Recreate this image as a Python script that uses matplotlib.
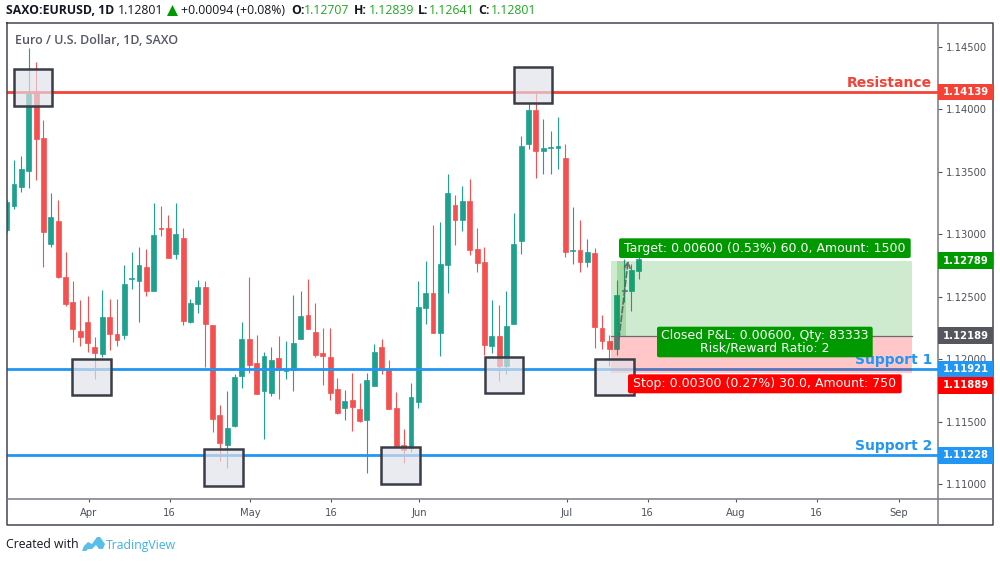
import matplotlib
matplotlib.use('Agg')
import matplotlib.pyplot as plt
from matplotlib.patches import Rectangle, FancyBboxPatch, Polygon

opens = [1.13034, 1.13226, 1.13379, 1.13507, 1.14132, 1.13771, 1.12922, 1.13106, 1.12658, 1.12458,
         1.12225, 1.12297, 1.12097, 1.12041, 1.12338, 1.12201, 1.12193, 1.12642, 1.12626, 1.12738,
         1.12546, 1.13050, 1.13050, 1.12842, 1.12970, 1.12297, 1.12442, 1.12578, 1.12273, 1.11553,
         1.11312, 1.11465, 1.11865, 1.12161, 1.11969, 1.11745, 1.11729, 1.12009, 1.11905, 1.11913,
         1.12161, 1.12354, 1.12217, 1.12049, 1.12017, 1.11761, 1.11609, 1.11673, 1.11601, 1.11513,
         1.11785, 1.12097, 1.11913, 1.11609, 1.11312, 1.11288, 1.11657, 1.12410, 1.12530, 1.12209,
         1.12754, 1.13234, 1.13114, 1.13267, 1.12882, 1.12778, 1.12105, 1.12185, 1.11945, 1.12281,
         1.12946, 1.13723, 1.13995, 1.13667, 1.13691, 1.13691, 1.13611, 1.12866, 1.12874, 1.12778,
         1.12850, 1.12249, 1.12145, 1.12081, 1.12546, 1.12546, 1.12707]
highs = [1.13275, 1.13595, 1.13627, 1.14492, 1.14380, 1.13915, 1.13331, 1.13275, 1.12858, 1.12626,
         1.12474, 1.12506, 1.12177, 1.12554, 1.12482, 1.12482, 1.12754, 1.12858, 1.12898, 1.12882,
         1.13250, 1.13226, 1.13154, 1.13250, 1.13050, 1.12482, 1.12634, 1.12626, 1.12273, 1.11633,
         1.11745, 1.11881, 1.12297, 1.12658, 1.12193, 1.12057, 1.12097, 1.12185, 1.12145, 1.12514,
         1.12546, 1.12642, 1.12450, 1.12249, 1.12249, 1.11849, 1.11753, 1.11889, 1.11809, 1.11889,
         1.12121, 1.12161, 1.11993, 1.11737, 1.11440, 1.11809, 1.12626, 1.12786, 1.13074, 1.13098,
         1.13483, 1.13315, 1.13387, 1.13443, 1.13050, 1.12898, 1.12474, 1.12434, 1.12546, 1.13170,
         1.13787, 1.14051, 1.14132, 1.13923, 1.13827, 1.13939, 1.13723, 1.13218, 1.13114, 1.12962,
         1.12890, 1.12354, 1.12193, 1.12634, 1.12802, 1.12762, 1.12839]
lows = [1.13018, 1.13202, 1.13339, 1.13371, 1.13435, 1.12738, 1.12898, 1.12650, 1.12426, 1.12137,
        1.12105, 1.12057, 1.11841, 1.12017, 1.12073, 1.12105, 1.12161, 1.12562, 1.12297, 1.12506,
        1.12546, 1.12986, 1.12810, 1.12802, 1.12273, 1.12289, 1.12370, 1.11937, 1.11416, 1.11184,
        1.11128, 1.11457, 1.11769, 1.11889, 1.11721, 1.11360, 1.11705, 1.11681, 1.11841, 1.11745,
        1.12161, 1.12241, 1.12017, 1.11793, 1.11673, 1.11561, 1.11513, 1.11424, 1.11497, 1.11088,
        1.11785, 1.11881, 1.11601, 1.11288, 1.11168, 1.11256, 1.11609, 1.12281, 1.12209, 1.12025,
        1.12530, 1.12914, 1.13026, 1.12834, 1.12698, 1.12033, 1.12049, 1.11825, 1.11881, 1.12281,
        1.12842, 1.13683, 1.13451, 1.13483, 1.13483, 1.13523, 1.12818, 1.12762, 1.12698, 1.12738,
        1.12089, 1.12081, 1.11945, 1.12033, 1.12458, 1.12386, 1.12641]
closes = [1.13259, 1.13403, 1.13523, 1.14132, 1.13763, 1.13018, 1.13138, 1.12658, 1.12442, 1.12241,
          1.12177, 1.12129, 1.12049, 1.12338, 1.12201, 1.12153, 1.12602, 1.12650, 1.12754, 1.12546,
          1.12994, 1.13042, 1.12810, 1.13002, 1.12305, 1.12450, 1.12578, 1.12281, 1.11521, 1.11328,
          1.11449, 1.11857, 1.12161, 1.11953, 1.11721, 1.12025, 1.11993, 1.11913, 1.11913, 1.12129,
          1.12346, 1.12241, 1.12033, 1.12025, 1.11729, 1.11569, 1.11665, 1.11617, 1.11505, 1.11833,
          1.12057, 1.11913, 1.11601, 1.11304, 1.11272, 1.11697, 1.12418, 1.12530, 1.12209, 1.12762,
          1.13331, 1.13114, 1.13267, 1.12874, 1.12770, 1.12113, 1.12185, 1.11945, 1.12265, 1.12922,
          1.13707, 1.13995, 1.13667, 1.13691, 1.13699, 1.13707, 1.12858, 1.12874, 1.12778, 1.12858,
          1.12257, 1.12145, 1.12081, 1.12514, 1.12554, 1.12714, 1.12801]

price_ticks = [1.110, 1.115, 1.120, 1.125, 1.130, 1.135, 1.140, 1.145]
date_ticks = [11.15, 22.15, 33.15, 44.15, 56.15, 76.2, 87.2, 99.2, 110.2, 121.4]
date_labels = ['Apr', '16', 'May', '16', 'Jun', 'Jul', '16', 'Aug', '16', 'Sep']

resistance = 1.14139
support_1 = 1.11921
support_2 = 1.11228
pos_target = 1.12789
pos_entry = 1.12189
pos_stop = 1.11889

# highlighted squares: first bar, top price
box_left = [0.95, 8.88, 26.88, 50.97, 68.98, 65.03, 80.04]
box_top = [1.14324, 1.12004, 1.11278, 1.11294, 1.14342, 1.12020, 1.12004]

GREEN = '#1fa18f'
RED = '#f45050'
BLUE = '#2196f3'
LINE_RED = '#f44336'
GRAY_AXIS = '#787b86'
TEXT_GRAY = '#4f525c'
FRAME = '#434651'

plt.rcParams['font.family'] = ['DejaVu Sans']

fig = plt.figure(figsize=(10, 5.62), dpi=100, facecolor='white')
ax = fig.add_axes([6.5 / 1000, (562 - 498.7) / 562, 931.2 / 1000, 475.7 / 562])
ax.set_xlim(-0.03, 126.67)
ax.set_ylim(1.10882, 1.14692)

# candles
for i in range(len(opens)):
    col = GREEN if closes[i] >= opens[i] else RED
    ax.vlines(i, lows[i], highs[i], color=col, lw=0.8, zorder=2)
    ax.bar(i, abs(closes[i] - opens[i]), bottom=min(opens[i], closes[i]), width=0.66,
           color=col, edgecolor=col, linewidth=0.5, zorder=3)

# horizontal levels
ax.axhline(resistance, color=LINE_RED, lw=2.0, zorder=4)
ax.axhline(support_1, color=BLUE, lw=2.0, zorder=4)
ax.axhline(support_2, color=BLUE, lw=2.0, zorder=4)

# long position tool
ax.add_patch(Rectangle((82.2, pos_entry), 41, pos_target - pos_entry,
                       facecolor=(0, 0.6, 0, 0.19), edgecolor='none', zorder=5))
ax.add_patch(Rectangle((82.2, pos_stop), 41, pos_entry - pos_stop,
                       facecolor=(1, 0, 0, 0.22), edgecolor='none', zorder=5))
ax.add_patch(Rectangle((83.1, pos_entry), 1.1, pos_target - pos_entry,
                       facecolor=(0, 0.6, 0, 0.2), edgecolor='none', zorder=5))
ax.plot([82.2, 123.2], [pos_entry, pos_entry], color='#6b6b70', lw=0.9, zorder=5)
ax.annotate('', xy=(84.55, pos_target), xytext=(83.3, 1.1216),
            arrowprops=dict(arrowstyle='->', color='#63666f', lw=1.2, ls='--', shrinkA=0, shrinkB=0),
            zorder=6)

# squares
for left, top in zip(box_left, box_top):
    ax.add_patch(Rectangle((left, top - 0.00294), 5.25, 0.00294,
                           facecolor=(0.88, 0.885, 0.915, 0.68),
                           edgecolor='#3a3d48', linewidth=1.8, zorder=7))

for s in ax.spines.values():
    s.set_visible(False)
ax.set_facecolor('white')
ax.yaxis.tick_right()
ax.set_yticks(price_ticks)
ax.set_yticklabels(['%.5f' % p for p in price_ticks])
ax.set_xticks(date_ticks)
ax.set_xticklabels(date_labels)
ax.tick_params(axis='y', length=2.6, width=0.8, color='#555555', labelcolor=TEXT_GRAY,
               labelsize=7.2, pad=3.2)
ax.tick_params(axis='x', length=2.2, width=0.8, color='#555555', labelcolor=TEXT_GRAY,
               labelsize=7.2, pad=4.5)

# overlay in pixels for frame, price labels and captions
ov = fig.add_axes([0, 0, 1, 1], zorder=10)
ov.set_xlim(0, 1000)
ov.set_ylim(562, 0)
ov.axis('off')


def py(price):
    return ov.transData.inverted().transform(ax.transData.transform((0, price)))[1]


ov.plot([6.5, 993.3, 993.3, 6.5, 6.5], [23.3, 23.3, 525.3, 525.3, 23.3], color=FRAME, lw=1.1)
ov.plot([6.5, 993.3], [498.7, 498.7], color=GRAY_AXIS, lw=1.1)
ov.plot([937.7, 937.7], [23.3, 525.3], color=GRAY_AXIS, lw=1.1)

# price labels on the axis
labels = [(resistance, 0, LINE_RED), (pos_target, 0, '#009900'), (pos_entry, 0, '#55565e'),
          (support_1, 0, BLUE), (pos_stop, 12.5, '#ff0000'), (support_2, 0, BLUE)]
for price, shift, col in labels:
    yc = py(price) + shift
    ov.add_patch(Rectangle((937.7, yc - 8.4), 55.6, 16.8, facecolor=col, edgecolor='none', zorder=3))
    ov.text(965.5, yc, '%.5f' % price, color='white', fontsize=7.2, fontweight='bold',
            ha='center', va='center', zorder=4)

# level captions
ov.text(932, py(resistance) - 9, 'Resistance', color=LINE_RED, fontsize=10, fontweight='bold',
        ha='right', va='center')
ov.text(932, py(support_1) - 9, 'Support 1', color=BLUE, fontsize=10, fontweight='bold',
        ha='right', va='center', zorder=1)
ov.text(932, py(support_2) - 9, 'Support 2', color=BLUE, fontsize=10, fontweight='bold',
        ha='right', va='center')

# position tool labels
tags = [(619, 238.3, 291.7, 19.7, '#009900', 'Target: 0.00600 (0.53%) 60.0, Amount: 1500'),
        (657, 326.7, 215.7, 30.6, '#009900', 'Closed P&L: 0.00600, Qty: 83333\nRisk/Reward Ratio: 2'),
        (628, 374.3, 273.7, 19, '#ff0000', 'Stop: 0.00300 (0.27%) 30.0, Amount: 750')]
for x0, y0, w, h, col, txt in tags:
    ov.add_patch(FancyBboxPatch((x0 + 2, y0 + 2), w - 4, h - 4, boxstyle='round,pad=2,rounding_size=2',
                                facecolor=col, edgecolor='none', zorder=3))
    ov.text(x0 + w / 2, y0 + h / 2, txt, color='white', fontsize=9.0, ha='center', va='center',
            linespacing=0.95, zorder=4)

# header line
HEAD = 'Open Sans'
ov.text(6.4, 11, 'SAXO:EURUSD, 1D', family=HEAD, fontsize=8.8, fontweight='bold', color='#131722', va='center')
ov.text(118, 11, '1.12801', family=HEAD, fontsize=8.8, color='#131722', va='center')
ov.add_patch(Polygon([(167, 16), (178, 16), (172.5, 5)], facecolor='#009900', edgecolor='none'))
ov.text(181, 11, '+0.00094 (+0.08%)', family=HEAD, fontsize=8.8, color='#131722', va='center')
parts = [(291, 'O:', 304, '1.12707'), (354, 'H:', 369, '1.12839'),
         (418, 'L:', 429, '1.12641'), (478, 'C:', 491, '1.12801')]
for x1, name, x2, val in parts:
    ov.text(x1, 11, name, family=HEAD, fontsize=8.8, fontweight='bold', color='#131722', va='center')
    ov.text(x2, 11, val, family=HEAD, fontsize=8.8, color='#22a822', va='center')

ov.text(15, 40.5, 'Euro / U.S. Dollar, 1D, SAXO', family=HEAD, fontsize=9.0, fontweight='semibold',
        color='#555862', va='center')

# footer
ov.text(6, 545, 'Created with', family=HEAD, fontsize=8.8, color='#131722', va='center')
ov.add_patch(Polygon([(82, 551), (84, 546), (88, 542), (92, 544), (97, 537), (100, 537), (105, 544),
                      (103, 549), (99, 549), (96, 545), (92, 549), (88, 549), (86, 551)],
                     facecolor='#58bfe9', edgecolor='none'))
ov.text(105.5, 545, 'TradingView', family=HEAD, fontsize=8.8, color='#3bb3e4', va='center')

fig.savefig('out.png', dpi=100)
